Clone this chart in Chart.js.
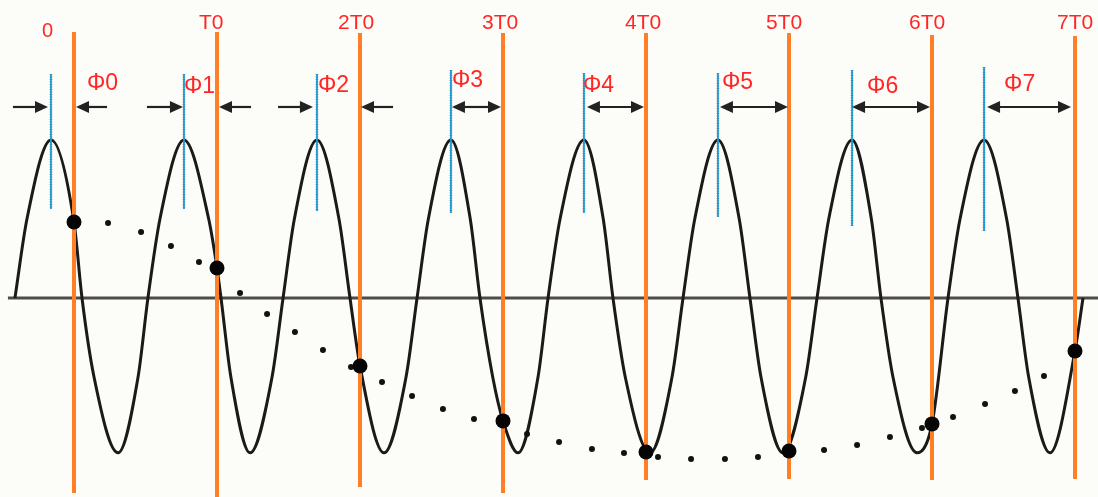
<!DOCTYPE html>
<html><head><meta charset="utf-8">
<script src="https://cdn.jsdelivr.net/npm/chart.js@4"></script>
<style>html,body{margin:0;padding:0;background:#fcfcf8;}canvas{display:block;}</style>
</head><body>
<canvas id="c" width="1098" height="497"></canvas>
<script>
// x axis: time in units of T0 ; y axis: signal in units of the wave amplitude
const periodLabels = ['0','T0','2T0','3T0','4T0','5T0','6T0','7T0'];
const periodT = [0,1,2,3,4,5,6,7];
const phaseLabels = ['Φ0','Φ1','Φ2','Φ3','Φ4','Φ5','Φ6','Φ7'];

// sinusoid (crossings, half-amplitude points, crests, troughs)
const waveT = [-0.413,-0.329,-0.161,0,0.056,0.140,0.308,0.448,0.517,0.601,0.769,0.942,1,1.028,1.097,1.231,1.385,1.462,1.541,1.699,1.853,1.930,2,2.168,2.322,2.399,2.478,2.636,2.771,2.839,2.928,3,3.105,3.245,3.315,3.399,3.566,3.701,3.769,3.855,4.028,4.182,4.259,4.341,4.503,4.652,4.727,4.804,4.958,5.117,5.196,5.278,5.441,5.576,5.643,5.727,5.895,6,6.112,6.196,6.364,6.522,6.601,6.676,6.825,7,7.056];
const waveA = [0,0.5,1,0.481,0,-0.5,-0.98,-0.5,0,0.5,1,0.5,0.190,0,-0.5,-0.98,-0.5,0,0.5,1,0.5,0,-0.430,-0.98,-0.5,0,0.5,1,0.5,0,-0.5,-0.778,-0.98,-0.5,0,0.5,1,0.5,0,-0.5,-0.98,-0.5,0,0.5,1,0.5,0,-0.5,-0.98,-0.5,0,0.5,1,0.5,0,-0.5,-0.98,-0.797,0,0.5,1,0.5,0,-0.5,-0.98,-0.335,0];

// crest times (blue markers)
const crestT = [-0.161,0.769,1.699,2.636,3.566,4.503,5.441,6.364];
const crestLineTop = [1.418,1.418,1.418,1.443,1.424,1.424,1.443,1.462];
const crestLineBottom = [0.563,0.563,0.551,0.538,0.538,0.513,0.456,0.424];

// samples taken at every k*T0 (big dots)
const sampleA = [0.481,0.190,-0.430,-0.778,-0.975,-0.968,-0.797,-0.335];
// dotted envelope through the samples
const trailT = [0.238,0.469,0.678,0.874,1.161,1.350,1.545,1.741,1.937,2.154,2.364,2.580,2.797,3.168,3.392,3.622,3.846,4.084,4.315,4.552,4.783,5.245,5.476,5.706,5.930,6.147,6.371,6.580,6.783];
const trailA = [0.475,0.418,0.329,0.228,0.032,-0.101,-0.215,-0.329,-0.436,-0.532,-0.620,-0.703,-0.766,-0.861,-0.911,-0.956,-0.981,-1.006,-1.019,-1.019,-1.006,-0.962,-0.930,-0.880,-0.823,-0.753,-0.671,-0.589,-0.494];

// orange period markers
const markerTop = [1.684,1.684,1.677,1.677,1.677,1.677,1.665,1.658];
const markerBottom = [-1.234,-1.259,-1.196,-1.234,-1.152,-1.146,-1.152,-1.146];

// zero axis
const axisFrom = -0.462, axisTo = 7.2;

// phase arrows
const arrowLevel = 1.209;
const inLeftFrom = [-0.427,0.510,1.427], inLeftTo = [-0.182,0.762,1.671];
const inRightFrom = [0.231,1.238,2.231], inRightTo = [0.014,1.014,2.007];
const spanFrom = [2.643,3.587,4.517,5.441,6.385], spanTo = [2.986,3.986,4.993,5.986,6.972];

const ORANGE = '#ff7f27', BLUE = '#1d9ad6', RED = '#ff2626', INK = '#1c1a18';

const datasets = [];
datasets.push({data:[{x:axisFrom,y:0},{x:axisTo,y:0}], showLine:true, borderColor:'#4f4b47', borderWidth:3, pointRadius:0, order:9});
datasets.push({data:waveT.map((t,i)=>({x:t,y:waveA[i]})), showLine:true, borderColor:INK, borderWidth:3, pointRadius:0, cubicInterpolationMode:'monotone', order:8});
crestT.forEach((t,i)=>{
  datasets.push({data:[{x:t,y:crestLineTop[i]},{x:t,y:crestLineBottom[i]}], showLine:true, borderColor:'rgba(70,70,70,0.7)', borderWidth:2.6, borderDash:[1,1.5], pointRadius:0, order:7});
  datasets.push({data:[{x:t,y:crestLineTop[i]},{x:t,y:crestLineBottom[i]}], showLine:true, borderColor:BLUE, borderWidth:1.8, pointRadius:0, order:6});
});
periodT.forEach((t,i)=>{
  datasets.push({data:[{x:t,y:markerTop[i]},{x:t,y:markerBottom[i]}], showLine:true, borderColor:ORANGE, borderWidth:4, pointRadius:0, order:5});
});
datasets.push({data:trailT.map((t,i)=>({x:t,y:trailA[i]})), showLine:false, pointRadius:3, pointBackgroundColor:'#111', pointBorderWidth:0, order:3});
datasets.push({data:periodT.map((t,i)=>({x:t,y:sampleA[i]})), showLine:false, pointRadius:7.5, pointBackgroundColor:'#050505', pointBorderWidth:0, order:2});

const labelStyle = {
  tickDx:[-32,-18,-22,-21,-21,-23,-23,-18],
  tickBase:[37,29,29,29,29,29,29,29],
  tickSize:[20,21,21,21,21,21,21,21],
  phiDx:[36,0,1,1,-1,4,15,20],
  phiBase:[90,93,92,87,92,89,93,91],
  phiSize:23
};

const decor = {
  id:'decor',
  beforeDraw(chart){
    const c = chart.ctx; c.save(); c.fillStyle='#fcfcf8'; c.fillRect(0,0,chart.width,chart.height); c.restore();
  },
  afterDatasetsDraw(chart){
    const c = chart.ctx, xs = chart.scales.x, ys = chart.scales.y;
    const yA = ys.getPixelForValue(arrowLevel);
    const head = (tip, dir) => {
      c.beginPath(); c.moveTo(tip, yA); c.lineTo(tip - dir*13, yA-6); c.lineTo(tip - dir*13, yA+6); c.closePath(); c.fill();
    };
    c.save();
    c.strokeStyle='#222'; c.fillStyle='#222'; c.lineWidth=2.2;
    const single = (from, to) => {
      const a = xs.getPixelForValue(from), b = xs.getPixelForValue(to), dir = Math.sign(b-a);
      c.beginPath(); c.moveTo(a,yA); c.lineTo(b - dir*10, yA); c.stroke(); head(b, dir);
    };
    inLeftFrom.forEach((f,i)=>single(f,inLeftTo[i]));
    inRightFrom.forEach((f,i)=>single(f,inRightTo[i]));
    spanFrom.forEach((f,i)=>{
      const a = xs.getPixelForValue(f), b = xs.getPixelForValue(spanTo[i]);
      c.beginPath(); c.moveTo(a+10,yA); c.lineTo(b-10,yA); c.stroke(); head(b,1); head(a,-1);
    });
    c.fillStyle = RED; c.textAlign='left'; c.textBaseline='alphabetic';
    periodT.forEach((t,i)=>{
      c.font = labelStyle.tickSize[i]+'px "Liberation Sans", Arial, sans-serif';
      c.fillText(periodLabels[i], xs.getPixelForValue(t)+labelStyle.tickDx[i], labelStyle.tickBase[i]);
    });
    c.font = labelStyle.phiSize+'px "Liberation Sans", Arial, sans-serif';
    crestT.forEach((t,i)=>{
      c.fillText(phaseLabels[i], xs.getPixelForValue(t)+labelStyle.phiDx[i], labelStyle.phiBase[i]);
    });
    c.restore();
  }
};

new Chart(document.getElementById('c'), {
  type:'scatter',
  data:{datasets},
  options:{
    responsive:false, devicePixelRatio:1, animation:false, events:[],
    layout:{padding:0, autoPadding:false},
    plugins:{legend:{display:false}, tooltip:{enabled:false}},
    scales:{
      x:{type:'linear', display:false, min:-74/143, max:1024/143},
      y:{type:'linear', display:false, min:-199/158, max:298/158}
    }
  },
  plugins:[decor]
});
</script>
</body></html>
